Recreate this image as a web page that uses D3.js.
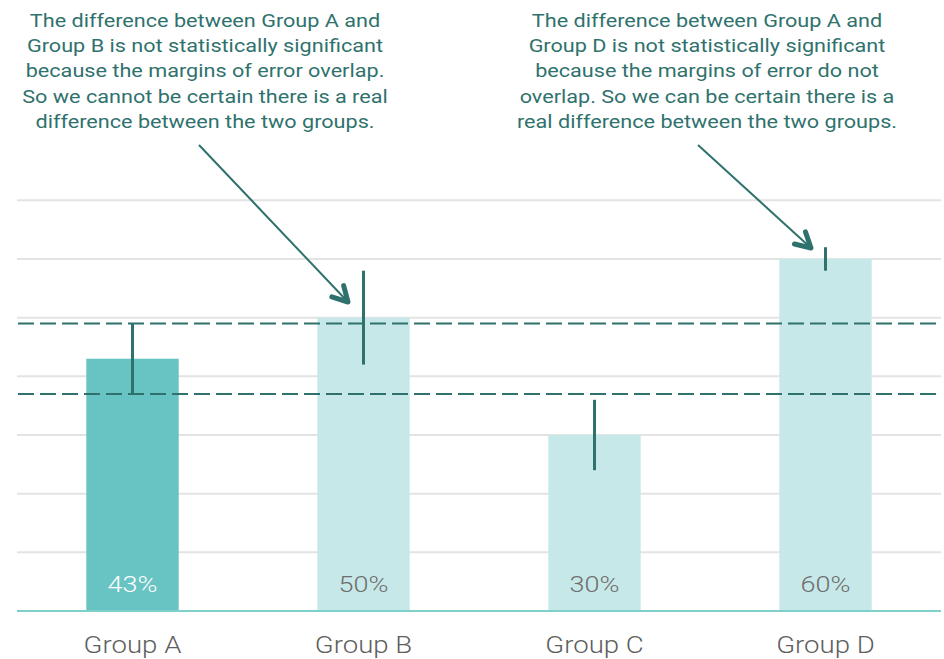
<!DOCTYPE html>
<html>
<head>
<meta charset="utf-8">
<script src="https://cdn.jsdelivr.net/npm/d3@7"></script>
<style>
  body { margin: 0; background: #fff; }
  svg { display: block; }
</style>
</head>
<body>
<svg width="944" height="659"></svg>
<script>
// data
const groups = ['Group A', 'Group B', 'Group C', 'Group D'];
const values = [43, 50, 30, 60];
const errLow = [37, 42, 24, 58];
const errHigh = [49, 58, 36, 62];
const gridTicks = [10, 20, 30, 40, 50, 60, 70];
const noteLeft = [
  'The difference between Group A and',
  'Group B is not statistically significant',
  'because the margins of error overlap.',
  'So we cannot be certain there is a real',
  'difference between the two groups.'
];
const noteRight = [
  'The difference between Group A and',
  'Group D is not statistically significant',
  'because the margins of error do not',
  'overlap. So we can be certain there is a',
  'real difference between the two groups.'
];

const teal = '#2f726d';
const stretch = 1.2; // the picture's text is wider than it is tall
const svg = d3.select('svg');

const x = d3.scaleBand().domain(groups).range([17, 941]).paddingInner(0.6).paddingOuter(0.3);
const y = d3.scaleLinear().domain([0, 70]).range([611, 200.3]);
const mid = g => x(g) + x.bandwidth() / 2;

// gridlines
svg.append('g').selectAll('line').data(gridTicks).enter().append('line')
  .attr('x1', 17).attr('x2', 941)
  .attr('y1', d => y(d)).attr('y2', d => y(d))
  .attr('stroke', '#e3e3e3').attr('stroke-width', 2);

// bars
svg.append('g').selectAll('rect').data(values).enter().append('rect')
  .attr('x', (d, i) => x(groups[i]))
  .attr('width', x.bandwidth())
  .attr('y', d => y(d))
  .attr('height', d => y(0) - y(d))
  .attr('fill', (d, i) => i === 0 ? '#68c4c3' : '#c6e8e8');

// baseline
svg.append('line')
  .attr('x1', 17).attr('x2', 941).attr('y1', y(0)).attr('y2', y(0))
  .attr('stroke', '#7fcfcb').attr('stroke-width', 2);

// dashed lines at group A margin of error
svg.append('g').selectAll('line').data([errHigh[0], errLow[0]]).enter().append('line')
  .attr('x1', 18).attr('x2', 941)
  .attr('y1', d => y(d)).attr('y2', d => y(d))
  .attr('stroke', teal).attr('stroke-width', 2)
  .attr('stroke-dasharray', '16,6');

// error bars
svg.append('g').selectAll('line').data(values).enter().append('line')
  .attr('x1', (d, i) => mid(groups[i]))
  .attr('x2', (d, i) => mid(groups[i]))
  .attr('y1', (d, i) => y(errHigh[i]))
  .attr('y2', (d, i) => y(errLow[i]))
  .attr('stroke', teal).attr('stroke-width', 3);

// value labels
svg.append('g').selectAll('text').data(values).enter().append('text')
  .attr('transform', (d, i) => `translate(${mid(groups[i])},591.5) scale(${stretch},1)`)
  .attr('text-anchor', 'middle')
  .attr('font-family', 'Roboto, sans-serif')
  .attr('font-weight', 300)
  .attr('font-size', 22.5)
  .attr('fill', (d, i) => i === 0 ? '#ffffff' : '#6e6e6e')
  .text(d => d + '%');

// group labels
svg.append('g').selectAll('text').data(groups).enter().append('text')
  .attr('transform', d => `translate(${mid(d)},652.5) scale(${stretch},1)`)
  .attr('text-anchor', 'middle')
  .attr('font-family', 'Roboto, sans-serif')
  .attr('font-weight', 300)
  .attr('font-size', 23)
  .attr('fill', '#5e5e5e')
  .text(d => d);

// annotations
function note(lines, cx) {
  svg.append('g').selectAll('text').data(lines).enter().append('text')
    .attr('transform', (d, i) => `translate(${cx},${26.5 + i * 25.4}) scale(${stretch + 0.03},1)`)
    .attr('text-anchor', 'middle')
    .attr('font-family', 'Roboto, sans-serif')
    .attr('font-size', 17.6)
    .attr('fill', teal)
    .text(d => d);
}
note(noteLeft, 205);
note(noteRight, 707);

function arrow(x0, y0, x1, y1) {
  svg.append('line')
    .attr('x1', x0).attr('y1', y0).attr('x2', x1).attr('y2', y1)
    .attr('stroke', teal).attr('stroke-width', 2);
  const a = Math.atan2(y1 - y0, x1 - x0);
  const len = 17, spread = 0.5;
  const pts = [
    [x1 - len * Math.cos(a - spread), y1 - len * Math.sin(a - spread)],
    [x1, y1],
    [x1 - len * Math.cos(a + spread), y1 - len * Math.sin(a + spread)]
  ];
  svg.append('path')
    .attr('d', d3.line()(pts))
    .attr('fill', 'none')
    .attr('stroke', teal).attr('stroke-width', 5)
    .attr('stroke-linecap', 'round').attr('stroke-linejoin', 'round');
}
arrow(199, 145, 348, 302);
arrow(698, 145, 811, 248);
</script>
</body>
</html>
